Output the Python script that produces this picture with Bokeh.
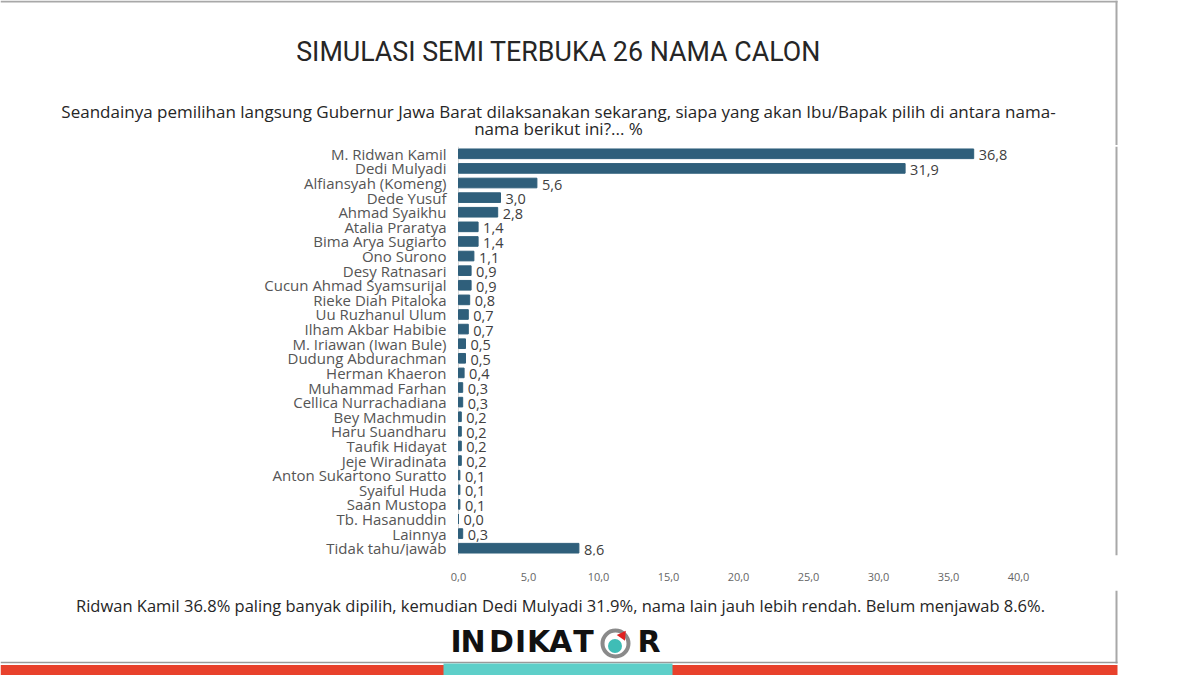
from bokeh.plotting import figure
from bokeh.layouts import column
from bokeh.models import ColumnDataSource, FactorRange, Range1d, FixedTicker
from bokeh.core.properties import value
from bokeh.embed import file_html
from bokeh.resources import INLINE

names = ["M. Ridwan Kamil", "Dedi Mulyadi", "Alfiansyah (Komeng)", "Dede Yusuf", "Ahmad Syaikhu",
         "Atalia Praratya", "Bima Arya Sugiarto", "Ono Surono", "Desy Ratnasari",
         "Cucun Ahmad Syamsurijal", "Rieke Diah Pitaloka", "Uu Ruzhanul Ulum", "Ilham Akbar Habibie",
         "M. Iriawan (Iwan Bule)", "Dudung Abdurachman", "Herman Khaeron", "Muhammad Farhan",
         "Cellica Nurrachadiana", "Bey Machmudin", "Haru Suandharu", "Taufik Hidayat",
         "Jeje Wiradinata", "Anton Sukartono Suratto", "Syaiful Huda", "Saan Mustopa",
         "Tb. Hasanuddin", "Lainnya", "Tidak tahu/jawab"]
values = [36.8, 31.9, 5.6, 3.0, 2.8, 1.4, 1.4, 1.1, 0.9, 0.9, 0.8, 0.7, 0.7, 0.5, 0.5, 0.4,
          0.3, 0.3, 0.2, 0.2, 0.2, 0.2, 0.1, 0.1, 0.1, 0.0, 0.3, 8.6]
x_ticks = [0, 5, 10, 15, 20, 25, 30, 35, 40]

title = "SIMULASI SEMI TERBUKA 26 NAMA CALON"
subtitle1 = "Seandainya pemilihan langsung Gubernur Jawa Barat dilaksanakan sekarang, siapa yang akan Ibu/Bapak pilih di antara nama-"
subtitle2 = "nama berikut ini?... %"
caption = "Ridwan Kamil 36.8% paling banyak dipilih, kemudian Dedi Mulyadi 31.9%, nama lain jauh lebih rendah. Belum menjawab 8.6%."
logo_letters = ["I", "N", "D", "I", "K", "A", "T", "R"]

FONT = "Open Sans"
BAR = "#2f5f7b"
BORDER = "#a8a8a8"
W = 1184
TOP_H, MID_H, BOT_H = 145, 445, 85
SLIDE_R = 1116
PX0, PX40 = 458, 1018          # pixel positions of 0 and 40 on the value axis


def blank(h, y0):
    f = figure(width=W, height=h, output_backend="svg", toolbar_location=None,
               x_range=Range1d(0, W), y_range=Range1d(y0 + h, y0),
               x_axis_location=None, y_axis_location=None,
               min_border=0, min_border_left=0, min_border_right=0,
               min_border_top=0, min_border_bottom=0)
    f.outline_line_color = None
    f.grid.grid_line_color = None
    f.background_fill_color = "white"
    f.border_fill_color = "white"
    return f


# ---------- header ----------
top = blank(TOP_H, 0)
top.segment(x0=[0, SLIDE_R], y0=[1, 0], x1=[SLIDE_R + 1, SLIDE_R], y1=[1, TOP_H],
            line_color=BORDER, line_width=2)
top.text(x=[558], y=[51], text=[title], text_font=value("Roboto"),
         text_font_size="26.8px", text_align="center", text_baseline="middle", text_color="#262626")
top.text(x=[558, 558], y=[111, 128], text=[subtitle1, subtitle2], text_font=value(FONT),
         text_font_size="17px", text_align="center", text_baseline="middle", text_color="#262626")

# ---------- chart ----------
src = ColumnDataSource(dict(
    name=names, val=values,
    lab=[f"{v:.1f}".replace(".", ",") for v in values],
))
scale = x_ticks[-1] / (PX40 - PX0)
x_start, x_end = -PX0 * scale, (W - PX0) * scale

p = figure(width=W, height=MID_H, output_backend="svg", toolbar_location=None,
           y_range=FactorRange(factors=list(reversed(names))),
           x_range=Range1d(x_start, x_end), y_axis_location=None,
           min_border_left=0, min_border_right=0,
           min_border_top=1, min_border_bottom=35)
p.outline_line_color = None
p.grid.grid_line_color = None
p.background_fill_color = "white"
p.border_fill_color = "white"

p.vspan(x=[0], line_color="#d9d9d9", line_width=1)
p.vspan(x=[(SLIDE_R - PX0) * scale], line_color=BORDER, line_width=2)
p.hbar(y="name", right="val", left=0, height=0.66, color=BAR, source=src)
p.text(x="val", y="name", text="lab", source=src, x_offset=5, y_offset=1.5,
       text_baseline="middle", text_align="left", text_font=value(FONT),
       text_font_size="14.5px", text_color="#404040")
# category labels, right-aligned against the value axis
p.text(x=0, y="name", text="name", source=src, x_offset=-12, y_offset=0,
       text_baseline="middle", text_align="right", text_font=value(FONT),
       text_font_size="15px", text_color="#555555")

xa = p.xaxis[0]
xa.ticker = FixedTicker(ticks=x_ticks)
xa.major_label_overrides = {t: f"{t:.1f}".replace(".", ",") for t in x_ticks}
xa.axis_line_color = None
xa.major_tick_line_color = None
xa.minor_tick_line_color = None
xa.major_label_standoff = 11
xa.major_label_text_font = FONT
xa.major_label_text_font_size = "11px"
xa.major_label_text_color = "#666666"

# ---------- footer ----------
y0 = TOP_H + MID_H
bot = blank(BOT_H, y0)
bot.segment(x0=[SLIDE_R], y0=[y0], x1=[SLIDE_R], y1=[663], line_color=BORDER, line_width=2)
bot.segment(x0=[0], y0=[662], x1=[SLIDE_R + 1], y1=[662], line_color="#9a9a9a", line_width=1.5)
bot.quad(left=[0], right=[SLIDE_R + 1], top=[664.5], bottom=[675], fill_color="#e8412c", line_color=None)
bot.quad(left=[443], right=[672], top=[663], bottom=[675], fill_color="#5ecfc9", line_color=None)
bot.text(x=[560], y=[605], text=[caption], text_font=value(FONT), text_font_size="16.5px",
         text_align="center", text_baseline="middle", text_color="#262626")
bot.text(x=[455.5, 472.5, 501, 520, 538, 560, 583, 648.5], y=641, text=logo_letters,
         text_font=value("DejaVu Sans"), text_font_size="30px", text_font_style="bold",
         text_align="center", text_baseline="middle", text_color="#111111")
bot.scatter(x=[615], y=[643], marker="circle", size=26, fill_color=None, line_color="#8a8a8a", line_width=4)
bot.scatter(x=[614.5], y=[645.5], marker="circle", size=14, fill_color="#3fbdb6", line_color=None)
bot.scatter(x=[622], y=[635], marker="triangle", size=10, angle=-0.6, fill_color="#e02020", line_color=None)

layout = column(top, p, bot, spacing=0)
open("out.html", "w").write(file_html(layout, INLINE))
